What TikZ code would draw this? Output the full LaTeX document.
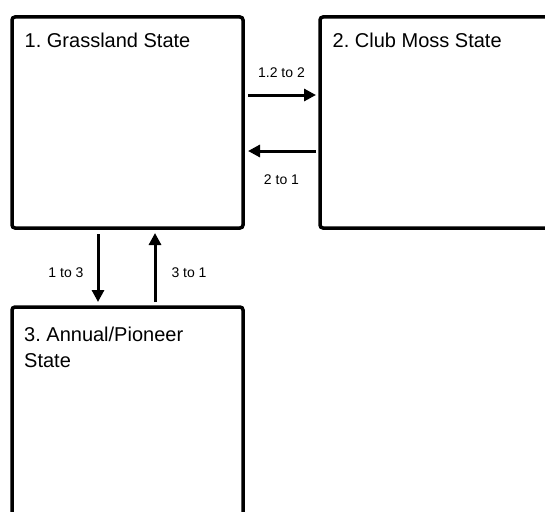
\documentclass[tikz,border=0pt]{standalone}
\usepackage{fontspec}
\setmainfont{Liberation Sans}
\usetikzlibrary{arrows.meta, positioning}
\frenchspacing

\begin{document}
\begin{tikzpicture}[x=1pt, y=-1pt, >={Triangle[length=12pt, width=12pt]},
	statebox/.style={draw, line width=3.5pt, rounded corners=3pt, minimum width=231pt, minimum height=211pt, inner sep=0pt, outer sep=0pt},
	statename/.style={anchor=north west, inner sep=0pt, align=left, font=\fontsize{20}{26}\selectfont},
	flow/.style={->, line width=3pt},
	rate/.style={inner sep=0pt, font=\fontsize{14}{16}\selectfont}]

			\useasboundingbox (0,0) rectangle (545,511);
			\clip (0,0) rectangle (545,511);

					\node [statebox] (G) at (127.5,122.5) {};
					\node [statebox, right=77pt of G] (C) {};
					\node [statebox, below=79pt of G] (A) {};

					\node [statename] (Gt) at ([shift={(12.5pt,-16pt)}]G.north west) {1. Grassland State};
					\node [statename] (Ct) at ([shift={(12.5pt,-16pt)}]C.north west) {2. Club Moss State};
					\node [statename] (At) at ([shift={(12pt,-19.5pt)}]A.north west) {3. Annual/Pioneer \\ State};

					\draw [flow, shorten <=5pt, shorten >=4pt] ([yshift=27.5pt]G.east) --
					node [rate, above=16pt] {1.2 to 2} ([yshift=27.5pt]C.west);

					\draw [flow, shorten <=4pt, shorten >=5pt] ([yshift=-28.5pt]C.west) --
					node [rate, below=22pt] {2 to 1} ([yshift=-28.5pt]G.east);

					\draw [flow, shorten <=6pt, shorten >=5pt] ([xshift=-29.5pt]G.south) --
					node [rate, left=13pt, yshift=-5pt] {1 to 3} ([xshift=-29.5pt]A.north);

					\draw [flow, shorten <=5pt, shorten >=5pt] ([xshift=27.5pt]A.north) --
					node [rate, right=15pt, yshift=-5pt] {3 to 1} ([xshift=27.5pt]G.south);

			\end{tikzpicture}
\end{document}
